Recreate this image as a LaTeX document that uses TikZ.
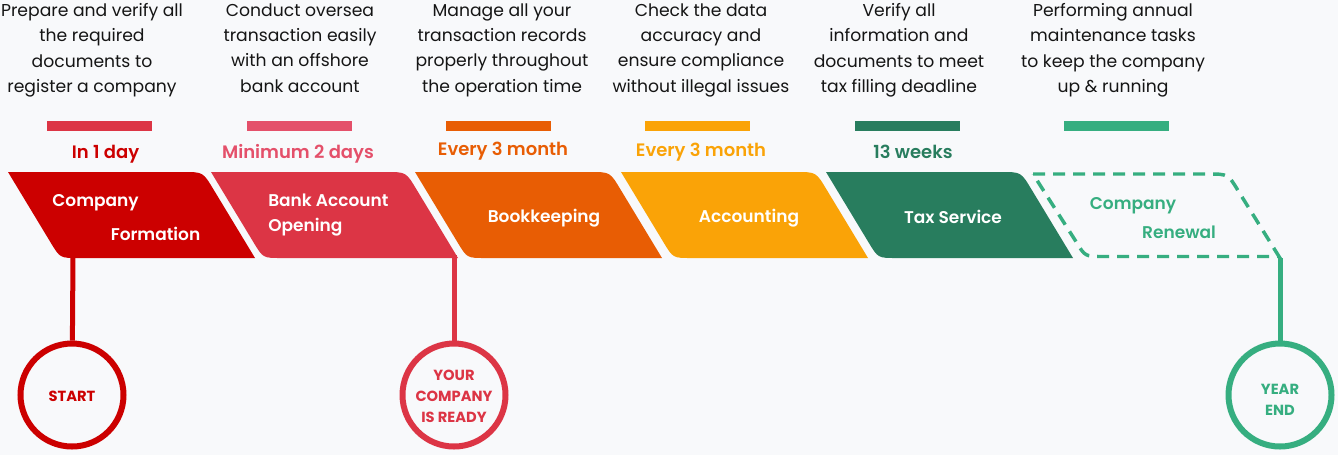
\documentclass[tikz,border=0pt]{standalone}
\usepackage{fontspec}
\setmainfont{Poppins}
\newfontfamily\semibold{Poppins SemiBold}
\definecolor{paper}{HTML}{F8F9FB}
\definecolor{ink}{HTML}{151515}
\definecolor{redA}{HTML}{CC0000}
\definecolor{crimson}{HTML}{DC3545}
\definecolor{rose}{HTML}{E4506A}
\definecolor{orangeA}{HTML}{E85D04}
\definecolor{amber}{HTML}{FAA307}
\definecolor{pine}{HTML}{287D5E}
\definecolor{mint}{HTML}{36AE80}

% one slanted stage band: sharp top-left, rounded top-right and bottom-left
\newcommand\stageshape[2]{%
  \fill[#2] (#1,172) -- ({#1+175},172) .. controls ({#1+195},172) .. ({#1+205.3},189.1)
    -- ({#1+247},258) -- ({#1+70},258) .. controls ({#1+52},258) .. ({#1+42.7},242.6) -- cycle;}

\begin{document}
\begin{tikzpicture}[x=0.75pt,y=-0.75pt,
  desc/.style={anchor=north, align=center, inner sep=0pt, text=ink,
    font=\fontsize{12.9}{19.05}\selectfont},
  dur/.style={anchor=base, inner sep=0pt, font=\semibold\fontsize{13.5}{16}\selectfont},
  lbl/.style={anchor=base, inner sep=0pt, text=white, font=\semibold\fontsize{12.75}{15}\selectfont},
  milestone/.style={circle, draw, line width=4.5pt, minimum size=77.25pt, inner sep=0pt},
  mtext/.style={align=center, inner sep=0pt, font=\bfseries\fontsize{11}{15.75}\selectfont},
  link/.style={line width=3.75pt},
  bar/.style={minimum width=78.75pt, minimum height=7.5pt, inner sep=0pt}]

\useasboundingbox (0,0) rectangle (1338,455);
\fill[paper] (0,0) rectangle (1338,455);

% descriptions
\node[desc] (d1) at (92,3) {Prepare and verify all\\the required\\documents to\\register a company};
\node[desc] (d2) at (300,3) {Conduct oversea\\transaction easily\\with an offshore\\bank account};
\node[desc] (d3) at (502,3) {Manage all your\\transaction records\\properly throughout\\the operation time};
\node[desc] (d4) at (701,3) {Check the data\\accuracy and\\ensure compliance\\without illegal issues};
\node[desc] (d5) at (899,3) {Verify all\\information and\\documents to meet\\tax filling deadline};
\node[desc] (d6) at (1113,3) {Performing annual\\maintenance tasks\\to keep the company\\up \& running};

% colour bars
\node[bar, fill=crimson] (b1) at (99.5,126) {};
\node[bar, fill=rose] (b2) at (299.5,126) {};
\node[bar, fill=orangeA] (b3) at (498.5,126) {};
\node[bar, fill=amber] (b4) at (697.5,126) {};
\node[bar, fill=pine] (b5) at (907,126) {};
\node[bar, fill=mint] (b6) at (1116.5,126) {};

% durations
\node[dur, text=redA] (t1) at (105.5,158) {In 1 day};
\node[dur, text=rose] (t2) at (298,158) {Minimum 2 days};
\node[dur, text=orangeA] (t3) at (503,155.5) {Every 3 month};
\node[dur, text=amber] (t4) at (701,156.5) {Every 3 month};
\node[dur, text=pine] (t5) at (913,158) {13 weeks};

% stage bands
\stageshape{8}{redA}
\stageshape{211}{crimson}
\stageshape{415}{orangeA}
\stageshape{621}{amber}
\stageshape{826}{pine}
\draw[mint, line width=2.6pt, dash pattern=on 9pt off 6pt]
  (1033,174) -- (1208,174) .. controls (1228,174) .. (1238.3,191)
  -- (1279,256.5) -- (1103,256.5) .. controls (1085,256.5) .. (1075.7,241.1) -- cycle;

% stage labels
\node[lbl] (s1a) at (95.5,206.5) {Company};
\node[lbl] (s1b) at (155.5,240) {Formation};
\node[lbl, anchor=base west] (s2a) at (268,206) {Bank Account};
\node[lbl, anchor=base west] (s2b) at (268,231.5) {Opening};
\node[lbl] (s3) at (544,222) {Bookkeeping};
\node[lbl] (s4) at (749,222) {Accounting};
\node[lbl] (s5) at (953,223.5) {Tax Service};
\node[lbl, text=mint] (s6a) at (1133,209) {Company};
\node[lbl, text=mint] (s6b) at (1179,238) {Renewal};

% milestones
\node[milestone, draw=redA] (start) at (72,395) {};
\node[milestone, draw=crimson] (ready) at (454,395) {};
\node[milestone, draw=mint] (yearend) at (1280,395) {};
\node[mtext, text=redA] (startt) at (72,396) {START};
\node[mtext, text=crimson] (readyt) at (454,396) {YOUR\\COMPANY\\IS READY};
\node[mtext, text=mint] (yearendt) at (1280,400) {YEAR\\END};

\coordinate (f1) at (73,256);
\coordinate (f2) at (454,255);
\coordinate (f6) at (1280,258);
\draw[link, redA] (f1) -- (start);
\draw[link, crimson] (f2) -- (ready);
\draw[link, mint] (f6) -- (yearend);
\end{tikzpicture}
\end{document}
